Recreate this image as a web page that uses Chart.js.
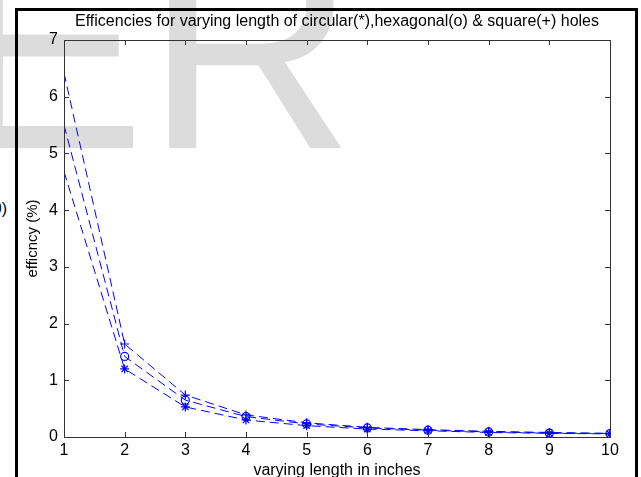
<!DOCTYPE html>
<html>
<head>
<meta charset="utf-8">
<script src="https://cdn.jsdelivr.net/npm/chart.js@4"></script>
<style>
  html, body { margin: 0; padding: 0; background: #fff; }
  #wrap { position: relative; width: 641px; height: 477px; overflow: hidden; }
  #mark { position: absolute; left: -48px; top: -98px; font: 290px/290px "Liberation Sans", Arial, sans-serif; color: #dcdcdc; white-space: nowrap; }
  #side { position: absolute; left: -20px; width: 27px; top: 200px; text-align: right; font: 16px "Liberation Sans", Arial, sans-serif; color: #000; }
  canvas { position: absolute; left: 0; top: 0; }
</style>
</head>
<body>
<div id="wrap">
  <div id="mark">ER</div>
  <div id="side">0)</div>
  <canvas id="c" width="641" height="477"></canvas>
</div>
<script>
'use strict';

// lengths in inches
const LENGTHS = [1, 2, 3, 4, 5, 6, 7, 8, 9, 10];
// efficiency (%)
const SQUARE   = [6.42, 1.64, 0.74, 0.39, 0.25, 0.17, 0.13, 0.10, 0.08, 0.065];
const HEXAGON  = [5.50, 1.42, 0.65, 0.36, 0.23, 0.16, 0.12, 0.09, 0.07, 0.06];
const CIRCULAR = [4.68, 1.20, 0.53, 0.30, 0.20, 0.14, 0.11, 0.08, 0.065, 0.055];

const X_TICKS = [1, 2, 3, 4, 5, 6, 7, 8, 9, 10];
const Y_TICKS = [0, 1, 2, 3, 4, 5, 6, 7];

const TITLE = 'Efficencies for varying length of circular(*),hexagonal(o) & square(+) holes';

const BLUE = '#0000ff';
const FONT = '"Liberation Sans", Arial, sans-serif';

function pts(vals) { return LENGTHS.map((x, i) => ({ x, y: vals[i] })); }
function radii(r) { return LENGTHS.map((x, i) => (i === 0 ? 0 : r)); }

function series(vals, style, r) {
  return {
    xAxisID: 'x',
    yAxisID: 'y',
    data: pts(vals),
    borderColor: BLUE,
    borderWidth: 1,
    borderDash: [9, 5],
    pointStyle: style,
    pointRadius: radii(r),
    pointBorderColor: BLUE,
    pointBackgroundColor: 'rgba(0,0,0,0)',
    pointBorderWidth: 1.2,
    tension: 0,
  };
}

// the figure window frame (black, open at the bottom)
const figFrame = {
  id: 'figFrame',
  afterDraw(chart) {
    const { ctx, width, height } = chart;
    ctx.save();
    ctx.fillStyle = '#000';
    ctx.fillRect(15, 8, 3, height - 8);
    ctx.fillRect(15, 8, width - 18, 3);
    ctx.fillRect(width - 6, 8, 3, height - 8);
    ctx.restore();
  },
};

// MATLAB style box with inward ticks
const boxTicks = {
  id: 'boxTicks',
  afterDatasetsDraw(chart) {
    const { ctx, chartArea: a, scales: { x, y } } = chart;
    ctx.save();
    ctx.strokeStyle = '#333';
    ctx.lineWidth = 1;
    ctx.beginPath();
    X_TICKS.forEach(v => {
      const px = Math.round(x.getPixelForValue(v)) + 0.5;
      ctx.moveTo(px, a.bottom); ctx.lineTo(px, a.bottom - 5);
      ctx.moveTo(px, a.top); ctx.lineTo(px, a.top + 5);
    });
    Y_TICKS.forEach(v => {
      const py = Math.round(y.getPixelForValue(v)) + 0.5;
      ctx.moveTo(a.left, py); ctx.lineTo(a.left + 5, py);
      ctx.moveTo(a.right, py); ctx.lineTo(a.right - 5, py);
    });
    ctx.stroke();
    ctx.strokeRect(Math.round(a.left) + 0.5, Math.round(a.top) + 0.5,
                   Math.round(a.right - a.left), Math.round(a.bottom - a.top));
    ctx.restore();
  },
};

new Chart(document.getElementById('c'), {
  type: 'line',
  data: {
    datasets: [
      series(SQUARE, 'cross', 4.5),
      series(HEXAGON, 'circle', 4),
      series(CIRCULAR, 'star', 4.5),
    ],
  },
  options: {
    responsive: false,
    animation: false,
    devicePixelRatio: 1,
    layout: { padding: { left: 0, right: 31, top: 0, bottom: 0 } },
    plugins: {
      legend: { display: false },
      tooltip: { enabled: false },
      title: { display: false },
    },
    scales: {
      x: {
        type: 'linear',
        position: 'bottom',
        min: 1, max: 10,
        afterFit: s => { s.height = 40; },
        afterBuildTicks: s => { s.ticks = X_TICKS.map(v => ({ value: v })); },
        grid: { display: false, drawTicks: false },
        border: { display: false },
        ticks: { color: '#000', padding: 4, font: { family: FONT, size: 16 } },
        title: {
          display: true, text: 'varying length in inches', color: '#000',
          font: { family: FONT, size: 16, lineHeight: 1 }, padding: { top: 0, bottom: -2 },
        },
      },
      // top axis only carries the title, centred over the plot box
      x2: {
        type: 'linear',
        position: 'top',
        min: 1, max: 10,
        afterFit: s => { s.height = 40; },
        grid: { display: false, drawTicks: false },
        border: { display: false },
        ticks: { display: false },
        title: {
          display: true, text: TITLE, color: '#000',
          font: { family: FONT, size: 16 }, padding: { top: 12.4, bottom: 0 },
        },
      },
      y: {
        min: 0, max: 7,
        afterFit: s => { s.width = 64; },
        afterBuildTicks: s => { s.ticks = Y_TICKS.map(v => ({ value: v })); },
        grid: { display: false, drawTicks: false },
        border: { display: false },
        ticks: { color: '#000', padding: 6, font: { family: FONT, size: 16 } },
        title: {
          display: true, text: 'efficncy (%)', color: '#000',
          font: { family: FONT, size: 15 }, padding: { top: 24, bottom: 0 },
        },
      },
    },
  },
  plugins: [figFrame, boxTicks],
});
</script>
</body>
</html>
